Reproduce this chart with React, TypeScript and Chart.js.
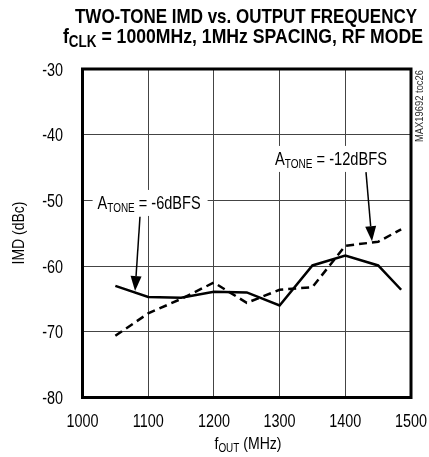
import { useEffect, useRef } from 'react';
import { Chart, registerables } from 'chart.js';

Chart.register(...registerables);

// ---- data ----
const freqMHz = [1050, 1100, 1150, 1200, 1250, 1300, 1350, 1400, 1450, 1485];
const imdTone6dBFS = [-63.0, -64.7, -64.8, -63.9, -64.0, -66.0, -59.9, -58.4, -59.9, -63.6];
const imdTone12dBFS = [-70.6, -67.2, -65.0, -62.5, -65.6, -63.6, -63.2, -56.9, -56.3, -54.4];
const xTickValues = [1000, 1100, 1200, 1300, 1400, 1500];
const yTickValues = [-80, -70, -60, -50, -40, -30];

const FONT = "'Liberation Sans Narrow', 'Liberation Sans', Arial, sans-serif";
const NARROW = 0.8;

type Seg = { t: string; sub?: boolean };

function drawRich(
  ctx: CanvasRenderingContext2D,
  segs: Seg[],
  size: number,
  subSize: number,
  subDy: number,
  weight: string,
  targetW: number | null,
  align: 'left' | 'center' | 'right'
) {
  const fMain = `${weight} ${size}px ${FONT}`;
  const fSub = `${weight} ${subSize}px ${FONT}`;
  const widths = segs.map((s) => {
    ctx.font = s.sub ? fSub : fMain;
    return ctx.measureText(s.t).width;
  });
  const total = widths.reduce((a, b) => a + b, 0);
  const sx = targetW ? targetW / total : NARROW;
  ctx.save();
  ctx.scale(sx, 1);
  ctx.textAlign = 'left';
  ctx.textBaseline = 'alphabetic';
  ctx.fillStyle = '#000';
  let x = align === 'center' ? -total / 2 : align === 'right' ? -total : 0;
  segs.forEach((s, i) => {
    ctx.font = s.sub ? fSub : fMain;
    ctx.fillText(s.t, x, s.sub ? subDy : 0);
    x += widths[i];
  });
  ctx.restore();
  return total * sx;
}

// annotations (data coordinates)
const annotations = [
  {
    segs: [{ t: 'A' }, { t: 'TONE', sub: true }, { t: ' = -6dBFS' }] as Seg[],
    label: { x: 1023, y: -51.3 },
    width: 103,
    from: { x: 1087.5, y: -52.5 },
    to: { x: 1080, y: -63.8 },
  },
  {
    segs: [{ t: 'A' }, { t: 'TONE', sub: true }, { t: ' = -12dBFS' }] as Seg[],
    label: { x: 1293, y: -44.6 },
    width: 112,
    from: { x: 1431.5, y: -45.7 },
    to: { x: 1440.6, y: -56.2 },
  },
];

function drawArrow(ctx: CanvasRenderingContext2D, x1: number, y1: number, x2: number, y2: number) {
  const ang = Math.atan2(y2 - y1, x2 - x1);
  const hl = 15;
  const hw = 5.5;
  const bx = x2 - hl * Math.cos(ang);
  const by = y2 - hl * Math.sin(ang);
  ctx.save();
  ctx.strokeStyle = '#000';
  ctx.fillStyle = '#000';
  ctx.lineWidth = 1.5;
  ctx.beginPath();
  ctx.moveTo(x1, y1);
  ctx.lineTo(bx, by);
  ctx.stroke();
  ctx.beginPath();
  ctx.moveTo(x2, y2);
  ctx.lineTo(bx + hw * Math.sin(ang), by - hw * Math.cos(ang));
  ctx.lineTo(bx - hw * Math.sin(ang), by + hw * Math.cos(ang));
  ctx.closePath();
  ctx.fill();
  ctx.restore();
}

const customPlugin = {
  id: 'customText',
  beforeDatasetsDraw(chart: any) {
    const ctx = chart.ctx as CanvasRenderingContext2D;
    const xs = chart.scales.x;
    const ys = chart.scales.y;
    ctx.save();
    ctx.fillStyle = '#fff';
    annotations.forEach((a) => {
      const ax = xs.getPixelForValue(a.label.x);
      const ay = ys.getPixelForValue(a.label.y);
      ctx.fillRect(ax - 5, ay - 19, a.width + 12, 26);
    });
    ctx.restore();
  },
  afterDatasetsDraw(chart: any) {
    const ctx = chart.ctx as CanvasRenderingContext2D;
    const xs = chart.scales.x;
    const ys = chart.scales.y;
    annotations.forEach((a) => {
      const ax = xs.getPixelForValue(a.label.x);
      const ay = ys.getPixelForValue(a.label.y);
      ctx.save();
      ctx.translate(ax, ay);
      drawRich(ctx, a.segs, 19, 13, 3, 'normal', a.width, 'left');
      ctx.restore();
      drawArrow(
        ctx,
        xs.getPixelForValue(a.from.x),
        ys.getPixelForValue(a.from.y),
        xs.getPixelForValue(a.to.x),
        ys.getPixelForValue(a.to.y)
      );
    });
  },
  afterDraw(chart: any) {
    const ctx = chart.ctx as CanvasRenderingContext2D;
    const { left, top, right, bottom } = chart.chartArea;
    const xs = chart.scales.x;
    const ys = chart.scales.y;
    // frame
    ctx.save();
    ctx.strokeStyle = '#000';
    ctx.lineWidth = 3;
    ctx.strokeRect(left, top, right - left, bottom - top);
    ctx.restore();

    // tick labels from the scales
    xs.ticks.forEach((t: any) => {
      ctx.save();
      ctx.translate(xs.getPixelForValue(t.value), 426.5);
      drawRich(ctx, [{ t: String(t.value) }], 18, 12, 0, 'normal', null, 'center');
      ctx.restore();
    });
    ys.ticks.forEach((t: any) => {
      ctx.save();
      ctx.translate(63, ys.getPixelForValue(t.value) + 6.5);
      drawRich(ctx, [{ t: String(t.value) }], 18, 12, 0, 'normal', null, 'right');
      ctx.restore();
    });

    // title
    ctx.save();
    ctx.translate(246, 23);
    drawRich(ctx, [{ t: 'TWO-TONE IMD vs. OUTPUT FREQUENCY' }], 21, 15, 4, 'bold', 342, 'center');
    ctx.restore();
    ctx.save();
    ctx.translate(243, 43);
    drawRich(
      ctx,
      [{ t: 'f' }, { t: 'CLK', sub: true }, { t: ' = 1000MHz, 1MHz SPACING, RF MODE' }],
      21,
      16,
      4,
      'bold',
      360,
      'center'
    );
    ctx.restore();

    // x title
    ctx.save();
    ctx.translate(248, 449);
    drawRich(ctx, [{ t: 'f' }, { t: 'OUT', sub: true }, { t: ' (MHz)' }], 17, 12, 3, 'normal', 67, 'center');
    ctx.restore();

    // y title
    ctx.save();
    ctx.translate(24, 233);
    ctx.rotate(-Math.PI / 2);
    drawRich(ctx, [{ t: 'IMD (dBc)' }], 17, 12, 3, 'normal', 63, 'center');
    ctx.restore();

    // watermark
    ctx.save();
    ctx.translate(423, 106);
    ctx.rotate(-Math.PI / 2);
    ctx.globalAlpha = 0.85;
    drawRich(ctx, [{ t: 'MAX19692 toc26' }], 10, 8, 2, 'normal', 72, 'center');
    ctx.restore();
  },
};

export default function App() {
  const ref = useRef<HTMLCanvasElement | null>(null);

  useEffect(() => {
    if (!ref.current) return;
    const chart = new Chart(ref.current, {
      type: 'line',
      data: {
        datasets: [
          {
            label: 'ATONE = -6dBFS',
            data: freqMHz.map((f, i) => ({ x: f, y: imdTone6dBFS[i] })),
            borderColor: '#000',
            borderWidth: 2.5,
            pointRadius: 0,
            tension: 0,
            fill: false,
          },
          {
            label: 'ATONE = -12dBFS',
            data: freqMHz.map((f, i) => ({ x: f, y: imdTone12dBFS[i] })),
            borderColor: '#000',
            borderWidth: 2.5,
            borderDash: [8, 5],
            pointRadius: 0,
            tension: 0,
            fill: false,
          },
        ],
      },
      options: {
        animation: false,
        responsive: false,
        devicePixelRatio: 1,
        layout: { padding: { top: 69, right: 18, left: 0, bottom: 0 } },
        plugins: {
          legend: { display: false },
          tooltip: { enabled: false },
          title: { display: false },
        },
        scales: {
          x: {
            type: 'linear',
            min: 1000,
            max: 1500,
            afterBuildTicks: (s: any) => {
              s.ticks = xTickValues.map((v) => ({ value: v }));
            },
            ticks: { display: false, autoSkip: false, maxRotation: 0 },
            grid: { color: '#444', lineWidth: 1, drawTicks: false },
            border: { display: false },
            afterFit: (s: any) => {
              s.height = 59.5;
            },
          },
          y: {
            type: 'linear',
            min: -80,
            max: -30,
            afterBuildTicks: (s: any) => {
              s.ticks = yTickValues.map((v) => ({ value: v }));
            },
            ticks: { display: false, autoSkip: false },
            grid: { color: '#444', lineWidth: 1, drawTicks: false },
            border: { display: false },
            afterFit: (s: any) => {
              s.width = 82.5;
            },
          },
        },
      },
      plugins: [customPlugin],
    });
    return () => chart.destroy();
  }, []);

  return (
    <div style={{ position: 'absolute', left: 0, top: 0, width: 429, height: 457, background: '#fff' }}>
      <canvas ref={ref} width={429} height={457} style={{ display: 'block' }} />
    </div>
  );
}
